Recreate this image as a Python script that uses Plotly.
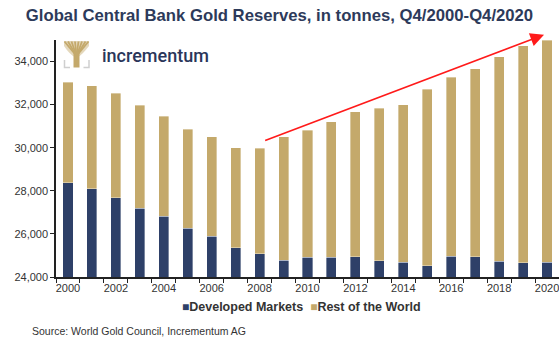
import plotly.graph_objects as go

years = [str(y) for y in range(2000, 2021)]
developed = [28370, 28090, 27670, 27180, 26820, 26260, 25890, 25350, 25090, 24780,
             24920, 24920, 24950, 24760, 24680, 24530, 24960, 24950, 24730, 24670, 24680]
rest_world = [4670, 4790, 4860, 4790, 4640, 4600, 4610, 4640, 4890, 5720,
              5900, 6280, 6710, 7070, 7320, 8190, 8310, 8720, 9500, 10070, 10310]
tick_text = [y if int(y) % 2 == 0 else "" for y in years]

NAVY = "#2E4068"
GOLD = "#C4A96B"
W, H = 559, 337
ML, MR, MT, MB = 56, 0, 40, 60
PW, PH = W - ML - MR, H - MT - MB


def px(x):
    return (x - ML) / PW


def py(y):
    return (H - MB - y) / PH


fig = go.Figure()
fig.add_trace(go.Bar(x=years, y=developed, name="Developed Markets", marker_color=NAVY,
                     marker_line=dict(width=0.6, color="rgba(255,255,255,0.6)")))
fig.add_trace(go.Bar(x=years, y=rest_world, name="Rest of the World", marker_color=GOLD,
                     marker_line=dict(width=0.6, color="rgba(255,255,255,0.6)")))

shapes = []
# logo tree canopy (light fill + branches)
shapes.append(dict(type="path", xref="paper", yref="paper",
                   path=f"M {px(64)},{py(41)} L {px(89)},{py(41)} L {px(89)},{py(46)} "
                        f"Q {px(82)},{py(55)} {px(78)},{py(57)} L {px(75)},{py(57)} "
                        f"Q {px(70)},{py(55)} {px(64)},{py(46)} Z",
                   fillcolor=GOLD, line=dict(width=0), opacity=0.45))
for tx in [64.5, 68, 71.5, 75, 78.5, 82, 85.5, 88.5]:
    shapes.append(dict(type="line", xref="paper", yref="paper",
                       x0=px(76.5), y0=py(56), x1=px(tx), y1=py(41.5),
                       line=dict(color=GOLD, width=1.8)))
shapes.append(dict(type="rect", xref="paper", yref="paper",
                   x0=px(73.5), y0=py(67.5), x1=px(79.5), y1=py(52),
                   fillcolor=GOLD, line=dict(width=0)))
# logo brackets
for path in [f"M {px(64.5)},{py(60)} L {px(64.5)},{py(67.5)} L {px(70)},{py(67.5)}",
             f"M {px(89)},{py(60)} L {px(89)},{py(67.5)} L {px(83.5)},{py(67.5)}"]:
    shapes.append(dict(type="path", xref="paper", yref="paper", path=path,
                       line=dict(color="#CFCFCF", width=1.5)))

fig.update_layout(
    width=W, height=H,
    margin=dict(l=ML, r=MR, t=MT, b=MB),
    paper_bgcolor="white", plot_bgcolor="white",
    barmode="stack", bargap=0.58,
    showlegend=False,
    font=dict(family="Liberation Sans, Arial, sans-serif", size=11, color="#333333"),
    title=dict(text="<b>Global Central Bank Gold Reserves, in tonnes, Q4/2000-Q4/2020</b>",
               x=0.5, xref="container", xanchor="center", y=0.955, yanchor="middle",
               font=dict(size=16.7, color="#2D3A5A")),
    xaxis=dict(type="category", range=[-0.5, 20.5], tickmode="array",
               tickvals=years, ticktext=tick_text, tickson="boundaries", tickangle=0,
               ticks="outside", ticklen=4, tickwidth=1, tickcolor="#222",
               showline=True, linecolor="#222", linewidth=1.5, showgrid=False,
               tickfont=dict(size=11, color="#333")),
    yaxis=dict(range=[24000, 35000], dtick=2000, tickformat=",d",
               ticks="outside", ticklen=4, tickwidth=1, tickcolor="#222",
               showline=True, linecolor="#222", linewidth=1.5, showgrid=False,
               zeroline=False, tickfont=dict(size=11, color="#333")),
    shapes=shapes,
)

fig.add_annotation(x=19.875, y=35240, ax=8.17, ay=30312, xref="x", yref="y",
                   axref="x", ayref="y", showarrow=True, arrowhead=2, arrowsize=1.7,
                   arrowwidth=1.6, arrowcolor="#FF1A1A", text="")
fig.add_annotation(text="incrementum", xref="paper", yref="paper", x=px(100), y=py(55),
                   xanchor="left", yanchor="middle", showarrow=False,
                   font=dict(size=18, color="#2A365A", family="Roboto, sans-serif", weight=500))
legend_html = (f'<span style="color:{NAVY};font-size:12px">■</span><b>Developed Markets</b>'
               f'  <span style="color:{GOLD};font-size:12px">■</span><b>Rest of the World</b>')
fig.add_annotation(text=legend_html, xref="paper", yref="paper", x=px(180), y=py(307),
                   xanchor="left", yanchor="middle", showarrow=False,
                   font=dict(size=12.5, color="#333"))
fig.add_annotation(text="Source: World Gold Council, Incrementum AG", xref="paper", yref="paper",
                   x=px(30), y=py(331), xanchor="left", yanchor="middle", showarrow=False,
                   font=dict(size=10.5, color="#333"))

fig.write_html("out.html")
